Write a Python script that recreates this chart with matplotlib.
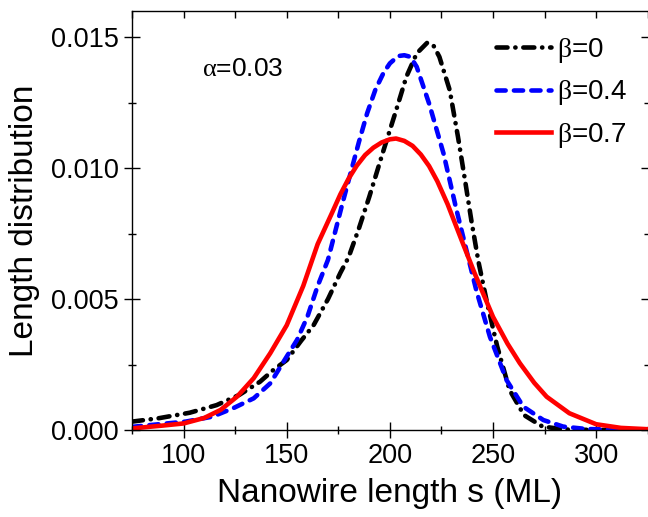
import matplotlib
matplotlib.use("Agg")
import matplotlib.pyplot as plt
from matplotlib.ticker import MultipleLocator, FormatStrFormatter

plt.rcParams['font.family'] = ['Liberation Sans', 'DejaVu Sans']
plt.rcParams['mathtext.fontset'] = 'custom'
plt.rcParams['mathtext.rm'] = 'Liberation Serif'
plt.rcParams['mathtext.it'] = 'Liberation Serif'

# beta = 0 (black dash-dot)
x_b0 = [75, 88, 103, 116, 127, 137, 143.5, 150, 157, 163, 170, 176, 180, 185, 190, 197,
        203, 208, 213, 218, 221, 224, 229, 233, 236.5, 239.5, 243, 247, 252, 258, 265,
        274, 285, 300, 325]
y_b0 = [0.00032, 0.00045, 0.00066, 0.00095, 0.00134, 0.00184, 0.00229, 0.00267, 0.00341,
        0.00400, 0.00500, 0.00600, 0.00660, 0.00770, 0.00890, 0.01070, 0.01220, 0.01349,
        0.01438, 0.01478, 0.01470, 0.01425, 0.01298, 0.01120, 0.00950, 0.00800, 0.00640,
        0.00490, 0.00320, 0.00153, 0.00057, 0.00013, 0.00002, 0.0, 0.0]

# beta = 0.4 (blue dashed)
x_b4 = [75, 88, 101, 114, 124, 134, 142, 148, 155, 160, 165, 170, 177, 185, 189, 193,
        197, 200, 204, 207, 210, 213, 219, 226, 232, 237, 242, 248.5, 256.6, 264.7,
        274.4, 284, 295, 310, 325]
y_b4 = [0.00012, 0.00022, 0.00032, 0.00051, 0.00083, 0.00121, 0.00178, 0.00255, 0.00344,
        0.00432, 0.00550, 0.00650, 0.00865, 0.01100, 0.01210, 0.01300, 0.01365, 0.01400,
        0.01428, 0.01431, 0.01425, 0.01387, 0.01247, 0.01056, 0.00850, 0.00690, 0.00530,
        0.00356, 0.00190, 0.00089, 0.00038, 0.00013, 0.00004, 0.00001, 0.0]

# beta = 0.7 (red solid)
x_b7 = [75, 90, 100, 110, 118, 126, 134, 142, 150, 158, 165, 172, 176, 180, 184, 188,
        192, 196, 200, 203, 207, 211, 215, 219, 223, 228, 235, 241, 250, 257, 263, 270,
        276, 287, 300, 312, 325]
y_b7 = [0.00006, 0.00017, 0.00025, 0.00046, 0.00077, 0.00128, 0.00198, 0.00293, 0.00400,
        0.00550, 0.00710, 0.00830, 0.00900, 0.00960, 0.01010, 0.01050, 0.01078, 0.01098,
        0.01110, 0.01113, 0.01104, 0.01085, 0.01052, 0.01008, 0.00950, 0.00862, 0.00720,
        0.00600, 0.00432, 0.00330, 0.00255, 0.00180, 0.00127, 0.00064, 0.00022, 0.00008,
        0.00003]

labels = [r'$\mathrm{\beta}$=0', r'$\mathrm{\beta}$=0.4', r'$\mathrm{\beta}$=0.7']
annotation = r'$\mathrm{\alpha}$=0.03'
x_label = 'Nanowire length s (ML)'
y_label = 'Length distribution'

fig = plt.figure(figsize=(6.48, 5.17), dpi=100)
ax = fig.add_axes([132/648, 87/517, 515.75/648, 419/517])

ax.plot(x_b0, y_b0, color='black', lw=3.3, dashes=(2.4, 1.7, 0.05, 1.7),
        dash_capstyle='round', solid_joinstyle='round', label=labels[0])
ax.plot(x_b4, y_b4, color='#0000ff', lw=3.3, dashes=(2.0, 1.8),
        dash_capstyle='round', solid_joinstyle='round', label=labels[1])
ax.plot(x_b7, y_b7, color='#ff0000', lw=3.3, solid_joinstyle='round', label=labels[2])

ax.set_xlim(75, 325)
ax.set_ylim(0, 0.016)
ax.xaxis.set_major_locator(MultipleLocator(50))
ax.xaxis.set_minor_locator(MultipleLocator(25))
ax.yaxis.set_major_locator(MultipleLocator(0.005))
ax.yaxis.set_minor_locator(MultipleLocator(0.0025))
ax.yaxis.set_major_formatter(FormatStrFormatter('%.3f'))
ax.tick_params(which='major', direction='inout', length=11, width=1.0, labelsize=19.5, pad=4)
ax.tick_params(which='minor', direction='inout', length=6, width=1.0)
ax.spines['right'].set_visible(False)
for s in ['left', 'bottom', 'top']:
    ax.spines[s].set_linewidth(1.0)

secx = ax.secondary_xaxis('top')
secx.xaxis.set_major_locator(MultipleLocator(25))
secx.tick_params(which='major', direction='in', length=5, width=1.0, labeltop=False)
secx.spines['top'].set_visible(False)
secy = ax.secondary_yaxis('right')
secy.yaxis.set_major_locator(MultipleLocator(0.005))
secy.yaxis.set_minor_locator(MultipleLocator(0.0025))
secy.tick_params(which='major', direction='in', length=5, width=1.0, labelright=False)
secy.tick_params(which='minor', direction='in', length=3, width=1.0)
secy.spines['right'].set_visible(False)

ax.set_xlabel(x_label, fontsize=24, labelpad=6)
ax.set_ylabel(y_label, fontsize=24, labelpad=8)

ax.text(109, 0.0138, annotation, fontsize=19, va='center', ha='left')

leg = ax.legend(loc='upper left', bbox_to_anchor=(0.705, 0.94), frameon=False,
                fontsize=20, handlelength=2.0, handletextpad=0.2, labelspacing=0.48,
                borderpad=0, borderaxespad=0)

fig.savefig('out.png', dpi=100)
